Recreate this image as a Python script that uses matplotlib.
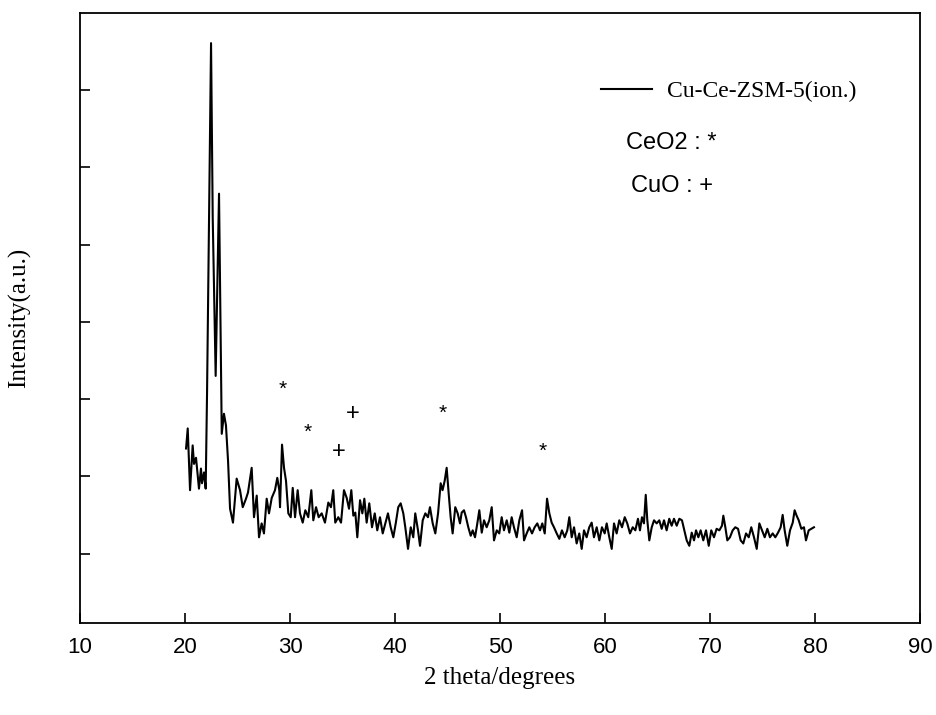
import matplotlib
matplotlib.use("Agg")
import matplotlib.pyplot as plt

# XRD-Muster Cu-Ce-ZSM-5 (ion.)
two_theta = [
    20.10, 20.26, 20.48, 20.73, 20.86, 21.05, 21.33, 21.52, 21.62, 21.81,
    21.97, 22.10, 22.48, 22.64, 22.92, 23.24, 23.50, 23.71, 23.90, 24.10,
    24.29, 24.57, 24.92, 25.24, 25.50, 25.81, 26.00, 26.35, 26.57, 26.83,
    27.05, 27.30, 27.52, 27.78, 28.00, 28.26, 28.57, 28.79, 28.98, 29.05,
    29.24, 29.43, 29.62, 29.84, 30.07, 30.26, 30.48, 30.73, 30.95, 31.21,
    31.46, 31.74, 32.03, 32.22, 32.48, 32.73, 33.02, 33.33, 33.65, 33.90,
    34.12, 34.31, 34.60, 34.86, 35.14, 35.40, 35.62, 35.84, 36.03, 36.22,
    36.41, 36.67, 36.89, 37.08, 37.30, 37.55, 37.81, 38.07, 38.31, 38.57,
    38.83, 39.08, 39.33, 39.59, 39.84, 40.07, 40.31, 40.54, 40.79, 40.98,
    41.24, 41.50, 41.74, 41.93, 42.19, 42.38, 42.64, 42.89, 43.14, 43.33,
    43.59, 43.84, 44.10, 44.35, 44.53, 44.73, 44.92, 45.11, 45.30, 45.49,
    45.74, 45.97, 46.19, 46.35, 46.57, 46.76, 46.98, 47.21, 47.40, 47.62,
    47.84, 48.03, 48.26, 48.48, 48.73, 48.98, 49.21, 49.43, 49.69, 49.93,
    50.16, 50.38, 50.64, 50.89, 51.11, 51.33, 51.59, 51.84, 52.10, 52.29,
    52.54, 52.79, 53.05, 53.30, 53.55, 53.81, 54.03, 54.26, 54.48, 54.70,
    54.92, 55.14, 55.40, 55.65, 55.90, 56.16, 56.41, 56.60, 56.83, 57.05,
    57.30, 57.55, 57.78, 58.00, 58.25, 58.50, 58.73, 58.95, 59.21, 59.46,
    59.71, 59.97, 60.16, 60.41, 60.64, 60.86, 61.11, 61.36, 61.62, 61.88,
    62.12, 62.38, 62.64, 62.89, 63.14, 63.33, 63.52, 63.71, 63.88, 64.03,
    64.22, 64.45, 64.67, 64.92, 65.17, 65.40, 65.62, 65.87, 66.12, 66.35,
    66.57, 66.83, 67.08, 67.33, 67.52, 67.78, 68.03, 68.26, 68.48, 68.67,
    68.89, 69.11, 69.36, 69.62, 69.88, 70.12, 70.38, 70.63, 70.89, 71.14,
    71.27, 71.46, 71.65, 71.90, 72.16, 72.41, 72.67, 72.92, 73.17, 73.43,
    73.69, 73.93, 74.19, 74.45, 74.70, 74.95, 75.21, 75.46, 75.71, 75.97,
    76.22, 76.48, 76.73, 76.92, 77.11, 77.36, 77.62, 77.88, 78.06, 78.25,
    78.45, 78.70, 78.95, 79.14, 79.40, 79.65, 79.90,
]
intensity = [
    236, 262, 182, 240, 216, 224, 184, 210, 191, 205,
    184, 308, 761, 535, 330, 566, 255, 281, 266, 220,
    158, 140, 197, 182, 160, 171, 179, 211, 147, 175,
    121, 139, 126, 171, 152, 172, 182, 198, 182, 160,
    241, 211, 194, 152, 147, 185, 147, 182, 152, 140,
    156, 147, 182, 143, 160, 147, 152, 140, 166, 160,
    182, 140, 147, 140, 182, 172, 158, 182, 149, 153,
    121, 169, 152, 171, 140, 165, 134, 152, 130, 147,
    126, 139, 152, 134, 121, 139, 160, 165, 152, 134,
    106, 134, 121, 152, 130, 110, 143, 152, 147, 160,
    139, 126, 152, 191, 182, 194, 211, 178, 147, 126,
    160, 152, 139, 153, 156, 147, 134, 123, 130, 121,
    139, 156, 127, 143, 134, 143, 160, 117, 130, 126,
    147, 130, 143, 127, 147, 134, 121, 143, 156, 117,
    126, 134, 126, 134, 139, 130, 139, 126, 171, 152,
    140, 134, 126, 119, 130, 121, 130, 147, 121, 134,
    113, 126, 106, 130, 121, 134, 140, 121, 134, 117,
    134, 126, 139, 121, 106, 139, 126, 143, 134, 147,
    139, 126, 134, 130, 145, 130, 147, 139, 176, 143,
    117, 134, 143, 139, 143, 132, 143, 130, 145, 136,
    145, 136, 145, 143, 132, 117, 110, 127, 117, 130,
    121, 130, 117, 130, 110, 130, 121, 132, 130, 136,
    149, 134, 117, 121, 130, 134, 132, 117, 113, 126,
    121, 134, 121, 106, 139, 130, 121, 132, 121, 126,
    121, 127, 134, 150, 130, 110, 130, 140, 156, 149,
    143, 132, 134, 117, 130, 132, 134,
]

# Phasenmarkierungen
ceo2_x = [29.33, 31.71, 44.57, 54.10]
ceo2_y = [313, 257, 281, 232]
cuo_x = [34.67, 36.0]
cuo_y = [232, 281]

fig = plt.figure(figsize=(9.36, 7.15), dpi=100)
ax = fig.add_axes([80 / 936, 92 / 715, 840 / 936, 610 / 715])

ax.plot(two_theta, intensity, color="black", lw=1.5, label="Cu-Ce-ZSM-5(ion.)")

for x, y in zip(ceo2_x, ceo2_y):
    ax.text(x, y, "*", ha="center", va="center", fontsize=15, family="Liberation Sans")
for x, y in zip(cuo_x, cuo_y):
    ax.text(x, y, "+", ha="center", va="center", fontsize=17, family="Liberation Sans")

ax.set_xlim(10, 90)
ax.set_ylim(10, 800)
ax.set_xticks(range(10, 91, 10))
ax.set_yticks(range(100, 701, 100))
ax.set_yticklabels([])
ax.tick_params(direction="in", length=7, width=1.2, top=False, right=False)
ax.tick_params(axis="x", pad=10, labelsize=16)
for lbl in ax.get_xticklabels():
    lbl.set_family("Liberation Sans")
for s in ax.spines.values():
    s.set_linewidth(1.3)

ax.set_xlabel("2 theta/degrees", family="Liberation Serif", fontsize=18)
ax.set_ylabel("Intensity(a.u.)", family="Liberation Serif", fontsize=18)
ax.xaxis.set_label_coords(0.5, -0.072)
ax.yaxis.set_label_coords(-0.058, 0.5)

leg = ax.legend(loc="center left", bbox_to_anchor=(601 / 936, 1 - 91 / 715),
                bbox_transform=fig.transFigure, frameon=False, borderpad=0,
                borderaxespad=0, handlelength=2.15, handletextpad=0.65,
                prop={"family": "Liberation Serif", "size": 17})
leg.get_lines()[0].set_linewidth(1.5)

fig.text(626 / 936, 1 - 143 / 715, "CeO2 : *", family="Liberation Sans",
         fontsize=17, va="center")
fig.text(631 / 936, 1 - 186 / 715, "CuO : +", family="Liberation Sans",
         fontsize=17, va="center")

fig.savefig("out.png", dpi=100)
